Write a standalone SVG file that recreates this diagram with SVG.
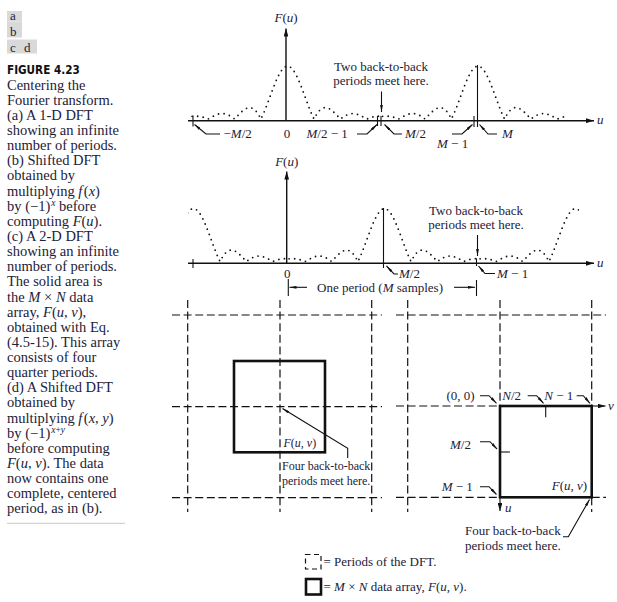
<svg xmlns="http://www.w3.org/2000/svg" width="617" height="602" viewBox="0 0 617 602">
<defs>
<style>
text{font-family:"Liberation Serif","Times New Roman",serif;fill:#1c2138}
.cap{font-size:14.5px}
.lb{font-size:13px}
.sm{font-size:12px}
.i{font-style:italic}
.ln{stroke:#111;stroke-width:1.1;fill:none}
.ax{stroke:#111;stroke-width:1.4;fill:none}
.dl{stroke:#111;stroke-width:1.2;stroke-dasharray:8 3.6;fill:none}
.sq{stroke:#111;stroke-width:2.6;fill:none}
.dots{stroke:#111;stroke-width:1.8;stroke-dasharray:0 5.6;stroke-linecap:round;fill:none}
.tag{fill:#d9d9d9}
.fig{font-family:"Liberation Sans Narrow","DejaVu Sans Condensed","Liberation Sans",sans-serif;font-weight:bold;font-size:12.5px;fill:#111}
</style>
<marker id="ah" viewBox="0 0 10 6" refX="10" refY="3" markerWidth="8" markerHeight="4.8" markerUnits="userSpaceOnUse" orient="auto"><path d="M0,0L10,3L0,6z" fill="#111"/></marker>
<marker id="al" viewBox="0 0 10 4" refX="10" refY="2" markerWidth="7" markerHeight="2.8" markerUnits="userSpaceOnUse" orient="auto"><path d="M0,0L10,2L0,4z" fill="#111"/></marker>
<path id="per" class="dots" d="M-95.4,-2.7 L-92.75,-2.9 -90.1,-2.8 -87.45,-2.5 -84.8,-1.9 -82.15,-1 -79.5,0 -76.85,-1.4 -74.2,-2.8 -71.55,-4.1 -68.9,-5 -66.25,-5.4 -63.6,-5.4 -60.95,-4.7 -58.3,-3.6 -55.65,-2 -53,0 -50.35,-2.7 -47.7,-5.5 -45.05,-8 -42.4,-10 -39.75,-11.2 -37.1,-11.5 -34.45,-10.5 -31.8,-8.3 -29.15,-4.7 -26.5,0 -23.85,-5.8 -21.2,-12.4 -18.55,-19.5 -15.9,-26.7 -13.25,-33.7 -10.6,-40.1 -7.95,-45.5 -5.3,-49.6 -2.65,-52.1 0,-53 2.65,-52.1 5.3,-49.6 7.95,-45.5 10.6,-40.1 13.25,-33.7 15.9,-26.7 18.55,-19.5 21.2,-12.4 23.85,-5.8 26.5,0 29.15,-4.7 31.8,-8.3 34.45,-10.5 37.1,-11.5 39.75,-11.2 42.4,-10 45.05,-8 47.7,-5.5 50.35,-2.7 53,0 55.65,-2 58.3,-3.6 60.95,-4.7 63.6,-5.4 66.25,-5.4 68.9,-5 71.55,-4.1 74.2,-2.8 76.85,-1.4 79.5,0 82.15,-1 84.8,-1.9 87.45,-2.5 90.1,-2.8 92.75,-2.9 95.4,-2.7"/>
<clipPath id="ca"><rect x="191" y="50" width="377" height="80"/></clipPath>
<clipPath id="cb"><rect x="188" y="195" width="391" height="75"/></clipPath>
</defs>

<g id="caption">
<rect class="tag" x="7" y="11" width="15" height="10.5"/>
<rect class="tag" x="7" y="21.5" width="15" height="16"/>
<rect class="tag" x="7" y="39.5" width="30" height="14"/>
<text class="lb" x="10" y="20">a</text>
<text class="lb" x="10" y="35.5">b</text>
<text class="lb" x="10" y="51.5">c</text>
<text class="lb" x="24" y="51.5">d</text>
<text class="fig" x="7" y="74" textLength="72.7" lengthAdjust="spacingAndGlyphs">FIGURE 4.23</text>
<text class="cap" x="7" y="89.5">Centering the</text>
<text class="cap" x="7" y="104.6">Fourier transform.</text>
<text class="cap" x="7" y="119.8">(a) A 1-D DFT</text>
<text class="cap" x="7" y="134.9">showing an infinite</text>
<text class="cap" x="7" y="150.1">number of periods.</text>
<text class="cap" x="7" y="165.2">(b) Shifted DFT</text>
<text class="cap" x="7" y="180.3">obtained by</text>
<text class="cap" x="7" y="195.5">multiplying <tspan class="i">f</tspan><tspan dx="1.5">(</tspan><tspan class="i">x</tspan>)</text>
<text class="cap" x="7" y="210.6">by (−1)<tspan class="i" font-size="9.5" dx="1" dy="-4.5">x</tspan><tspan dy="4.5"> before</tspan></text>
<text class="cap" x="7" y="225.8">computing <tspan class="i">F</tspan>(<tspan class="i">u</tspan>).</text>
<text class="cap" x="7" y="240.9">(c) A 2-D DFT</text>
<text class="cap" x="7" y="256">showing an infinite</text>
<text class="cap" x="7" y="271.2">number of periods.</text>
<text class="cap" x="7" y="286.3">The solid area is</text>
<text class="cap" x="7" y="301.5">the <tspan class="i">M</tspan> × <tspan class="i">N</tspan> data</text>
<text class="cap" x="7" y="316.6">array, <tspan class="i">F</tspan>(<tspan class="i">u</tspan>, <tspan class="i">v</tspan>),</text>
<text class="cap" x="7" y="331.7">obtained with Eq.</text>
<text class="cap" x="7" y="346.9">(4.5-15). This array</text>
<text class="cap" x="7" y="362">consists of four</text>
<text class="cap" x="7" y="377.2">quarter periods.</text>
<text class="cap" x="7" y="392.3">(d) A Shifted DFT</text>
<text class="cap" x="7" y="407.4">obtained by</text>
<text class="cap" x="7" y="422.6">multiplying <tspan class="i">f</tspan><tspan dx="1.5">(</tspan><tspan class="i">x</tspan>, <tspan class="i">y</tspan>)</text>
<text class="cap" x="7" y="437.7">by (−1)<tspan font-size="9.5" dx="1" dy="-4.5"><tspan class="i">x</tspan>+<tspan class="i">y</tspan></tspan></text>
<text class="cap" x="7" y="452.9">before computing</text>
<text class="cap" x="7" y="468"><tspan class="i">F</tspan>(<tspan class="i">u</tspan>, <tspan class="i">v</tspan>). The data</text>
<text class="cap" x="7" y="483.1">now contains one</text>
<text class="cap" x="7" y="498.3">complete, centered</text>
<text class="cap" x="7" y="513.4">period, as in (b).</text>
<line x1="7" y1="523.3" x2="125" y2="523.3" stroke="#c8c8c8" stroke-width="1"/>
</g>

<g id="plot-a">
<g clip-path="url(#ca)"><use href="#per" x="287.5" y="119"/><use href="#per" x="478" y="119"/></g>
<g id="plot-a-connectors">
<line class="ax" x1="188" y1="120.7" x2="594" y2="120.7" marker-end="url(#ah)"/>
<line class="ax" x1="286" y1="120.7" x2="286" y2="28.5" marker-end="url(#ah)"/>
<line class="ln" x1="193" y1="115.5" x2="193" y2="126.5"/>
<polyline class="ln" points="220,134 206,134 194.5,124.5" marker-end="url(#al)"/>
<polyline class="ln" points="357,134 367,134 377,124.5" marker-end="url(#al)"/>
<line class="ln" x1="377.5" y1="116" x2="377.5" y2="126"/>
<line class="ln" x1="381" y1="116" x2="381" y2="126"/>
<line class="ln" x1="381.5" y1="91.5" x2="381.5" y2="112" marker-end="url(#al)"/>
<polyline class="ln" points="402,134 394,134 384.5,124.5" marker-end="url(#al)"/>
<polyline class="ln" points="452,134 462,134 472.5,124.5" marker-end="url(#al)"/>
<line class="ln" x1="474" y1="116" x2="474" y2="127"/>
<line class="ln" x1="477.5" y1="65" x2="477.5" y2="127"/>
<polyline class="ln" points="497,134 488,134 479.5,124.5" marker-end="url(#al)"/>
</g>
<text class="lb" x="286" y="21.5" text-anchor="middle"><tspan class="i">F</tspan>(<tspan class="i">u</tspan>)</text>
<text class="lb" x="223.5" y="138">−<tspan class="i">M</tspan>/2</text>
<text class="lb" x="287" y="138" text-anchor="middle">0</text>
<text class="lb" x="306.5" y="138"><tspan class="i">M</tspan>/2 − 1</text>
<text class="lb" x="381" y="71" text-anchor="middle">Two back-to-back</text>
<text class="lb" x="381" y="84.5" text-anchor="middle">periods meet here.</text>
<text class="lb" x="405" y="138"><tspan class="i">M</tspan>/2</text>
<text class="lb" x="437" y="147.5"><tspan class="i">M</tspan> − 1</text>
<text class="lb" x="502" y="138"><tspan class="i">M</tspan></text>
<text class="lb i" x="597" y="124">u</text>
</g>

<g id="plot-b">
<g clip-path="url(#cb)"><use href="#per" x="193.5" y="261.5"/><use href="#per" x="384.5" y="261.5"/><use href="#per" x="575.5" y="261.5"/></g>
<g id="plot-b-connectors">
<line class="ax" x1="188" y1="263.3" x2="594" y2="263.3" marker-end="url(#ah)"/>
<line class="ax" x1="286.7" y1="263.3" x2="286.7" y2="171.5" marker-end="url(#ah)"/>
<line class="ln" x1="193" y1="259" x2="193" y2="268"/>
<line class="ln" x1="383.5" y1="208" x2="383.5" y2="268"/>
<line class="ln" x1="288.3" y1="279" x2="288.3" y2="296"/>
<line class="ln" x1="307" y1="287.3" x2="289.5" y2="287.3" marker-end="url(#al)"/>
<line class="ln" x1="454" y1="287.3" x2="475" y2="287.3" marker-end="url(#al)"/>
<line class="ln" x1="476.5" y1="280" x2="476.5" y2="296"/>
<line class="ln" x1="477.5" y1="235" x2="477.5" y2="256" marker-end="url(#al)"/>
<line class="ln" x1="476.5" y1="258.5" x2="476.5" y2="266"/>
<polyline class="ln" points="398,274 394,274 386.5,266" marker-end="url(#al)"/>
<polyline class="ln" points="495,273.5 485,273.5 478.5,266" marker-end="url(#al)"/>
</g>
<text class="lb" x="286.7" y="165.5" text-anchor="middle"><tspan class="i">F</tspan>(<tspan class="i">u</tspan>)</text>
<text class="lb" x="287.3" y="278" text-anchor="middle">0</text>
<text class="lb" x="317" y="291.5">One period (<tspan class="i">M</tspan> samples)</text>
<text class="lb" x="476" y="214.5" text-anchor="middle">Two back-to-back</text>
<text class="lb" x="476" y="228.5" text-anchor="middle">periods meet here.</text>
<text class="lb" x="399" y="277.5"><tspan class="i">M</tspan>/2</text>
<text class="lb" x="497" y="277.5"><tspan class="i">M</tspan> − 1</text>
<text class="lb i" x="597" y="267">u</text>
</g>

<g id="panel-c">
<g id="panel-c-grid">
<line class="dl" x1="172" y1="315" x2="382" y2="315"/>
<line class="dl" x1="172" y1="406.7" x2="382" y2="406.7"/>
<line class="dl" x1="172" y1="497.7" x2="382" y2="497.7"/>
<line class="dl" x1="187.7" y1="300" x2="187.7" y2="512"/>
<line class="dl" x1="280" y1="300" x2="280" y2="512"/>
<line class="dl" x1="371.7" y1="300" x2="371.7" y2="512"/>
</g>
<rect id="array-c" class="sq" x="234" y="361" width="91" height="91.3"/>
<text class="sm" x="283.5" y="446.5"><tspan class="i">F</tspan>(<tspan class="i">u</tspan>, <tspan class="i">v</tspan>)</text>
<polyline class="ln" points="347.7,458 347.7,448.3 282.5,408.5" marker-end="url(#al)"/>
<text class="sm" x="282" y="469.5">Four back-to-back</text>
<text class="sm" x="282" y="485">periods meet here.</text>
</g>

<g id="panel-d">
<g id="panel-d-grid">
<line class="dl" x1="396" y1="315" x2="606" y2="315"/>
<line class="dl" x1="396" y1="406" x2="500" y2="406"/>
<line class="dl" x1="396" y1="497.3" x2="500" y2="497.3"/>
<line class="dl" x1="591.7" y1="497.3" x2="606" y2="497.3"/>
<line class="dl" x1="407.7" y1="300" x2="407.7" y2="512"/>
<line class="dl" x1="500" y1="300" x2="500" y2="406"/>
<line class="dl" x1="591.7" y1="300" x2="591.7" y2="406"/>
<line class="dl" x1="591.7" y1="497.3" x2="591.7" y2="512"/>
</g>
<rect id="array-d" class="sq" x="500" y="406" width="91.7" height="91.3"/>
<g id="panel-d-connectors">
<line class="ln" x1="591.7" y1="406" x2="605.5" y2="406" marker-end="url(#ah)"/>
<line class="ln" x1="500" y1="497.3" x2="500" y2="511" marker-end="url(#ah)"/>
<line class="ln" x1="545.7" y1="406" x2="545.7" y2="417.3"/>
<line class="ln" x1="500" y1="452" x2="510" y2="452"/>
<polyline class="ln" points="480,395.7 489,395.7 496.5,403.3" marker-end="url(#al)"/>
<polyline class="ln" points="527.7,395.7 536.7,395.7 543.5,403.3" marker-end="url(#al)"/>
<polyline class="ln" points="576.7,395.7 583.3,395.7 590,403.3" marker-end="url(#al)"/>
<polyline class="ln" points="480,441.7 490,441.7 497,449" marker-end="url(#al)"/>
<polyline class="ln" points="480,486.7 489,486.7 496.5,494.5" marker-end="url(#al)"/>
<polyline class="ln" points="563,536.7 568.3,536.7 589.5,499.5" marker-end="url(#al)"/>
</g>
<text class="lb i" x="608" y="410">v</text>
<text class="lb i" x="505" y="512">u</text>
<text class="lb" x="446.5" y="400">(0, 0)</text>
<text class="lb" x="502.3" y="400"><tspan class="i">N</tspan>/2</text>
<text class="lb" x="544.3" y="400"><tspan class="i">N</tspan> − 1</text>
<text class="lb" x="450" y="448.5"><tspan class="i">M</tspan>/2</text>
<text class="lb" x="441.7" y="491"><tspan class="i">M</tspan> − 1</text>
<text class="lb" x="551.7" y="490"><tspan class="i">F</tspan>(<tspan class="i">u</tspan>, <tspan class="i">v</tspan>)</text>
<text class="lb" x="465" y="534.5">Four back-to-back</text>
<text class="lb" x="465" y="549.5">periods meet here.</text>
</g>

<g id="legend">
<rect x="305.5" y="554.5" width="15.5" height="14.5" fill="none" stroke="#111" stroke-width="1.2" stroke-dasharray="5 3.5"/>
<text class="lb" x="323.5" y="566">= Periods of the DFT.</text>
<rect x="306" y="579" width="15" height="15.5" fill="none" stroke="#111" stroke-width="2.6"/>
<text class="lb" x="323.5" y="591">= <tspan class="i">M</tspan> × <tspan class="i">N</tspan> data array, <tspan class="i">F</tspan>(<tspan class="i">u</tspan>, <tspan class="i">v</tspan>).</text>
</g>
</svg>
